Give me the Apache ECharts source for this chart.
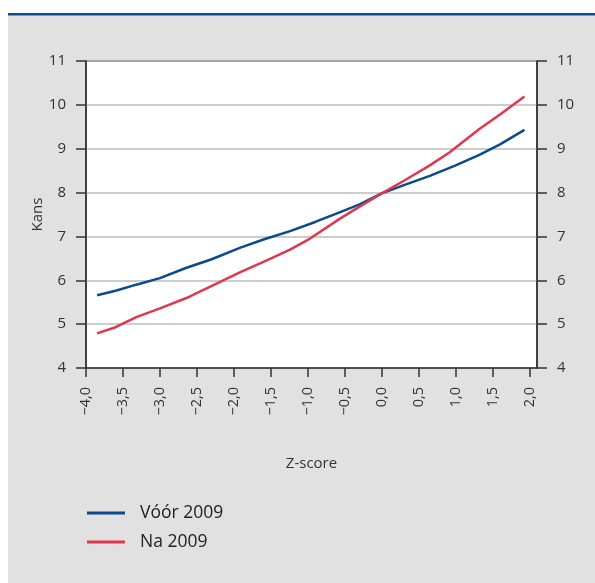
<!DOCTYPE html>
<html>
<head>
<meta charset="utf-8">
<script src="https://cdn.jsdelivr.net/npm/echarts@6/dist/echarts.min.js"></script>
<style>
html,body{margin:0;padding:0;background:#ffffff;}
#chart{width:595px;height:583px;}
</style>
</head>
<body>
<div id="chart"></div>
<script>
// Data
const seriesNames = ['Vóór 2009', 'Na 2009'];
const voorZ = [-3.85, -3.6, -3.32, -3.0, -2.65, -2.3, -1.92, -1.6, -1.24, -0.9, -0.57, -0.3, 0.0, 0.3, 0.65, 1.0, 1.32, 1.6, 1.93];
const voorKans = [5.66, 5.76, 5.90, 6.05, 6.28, 6.48, 6.74, 6.93, 7.12, 7.33, 7.55, 7.73, 7.98, 8.17, 8.38, 8.62, 8.86, 9.10, 9.43];
const naZ = [-3.85, -3.6, -3.32, -3.0, -2.65, -2.2, -1.92, -1.6, -1.24, -1.0, -0.57, -0.3, 0.0, 0.3, 0.65, 0.92, 1.32, 1.6, 1.93];
const naKans = [4.79, 4.93, 5.16, 5.36, 5.59, 5.95, 6.18, 6.42, 6.70, 6.92, 7.40, 7.68, 7.98, 8.27, 8.62, 8.92, 9.45, 9.78, 10.19];
const xTicks = [-4.0, -3.5, -3.0, -2.5, -2.0, -1.5, -1.0, -0.5, 0.0, 0.5, 1.0, 1.5, 2.0];
const yTicks = [4, 5, 6, 7, 8, 9, 10, 11];

const FONT = '"Open Sans", "Noto Sans", sans-serif';
const TXT = '#333333';
const BLUE = '#0b4a8e';
const RED = '#e0374f';

function fmtX(v) {
  return v.toFixed(1).replace('.', ',').replace('-', '\u2212');
}

const chart = echarts.init(document.getElementById('chart'), null, {renderer: 'canvas'});
const yAxisCommon = {
  type: 'value', min: 4, max: 11, interval: 1,
  axisLine: {show: true, onZero: false, lineStyle: {color: '#333', width: 1.5}},
  axisTick: {show: true, inside: false, length: 10, customValues: yTicks, lineStyle: {color: '#333', width: 1.5}},
  axisLabel: {fontFamily: FONT, fontSize: 15, color: TXT, margin: 20, customValues: yTicks},
};
chart.setOption({
  animation: false,
  backgroundColor: 'transparent',
  graphic: [
    {type: 'rect', silent: true, z: -10, shape: {x: 8, y: 14, width: 587, height: 569}, style: {fill: '#e1e1e1'}},
    {type: 'rect', silent: true, z: -9, shape: {x: 8, y: 13, width: 587, height: 2.5}, style: {fill: '#0b4f96'}}
  ],
  grid: {left: 86, right: 58, top: 61, bottom: 215, show: true, backgroundColor: '#ffffff', borderColor: '#3a3a3a', borderWidth: 1.5},
  legend: {
    orient: 'vertical', left: 82, top: 499, itemGap: 11,
    icon: 'rect', itemWidth: 38, itemHeight: 3,
    textStyle: {fontFamily: FONT, fontSize: 17.5, color: '#222', padding: [0, 0, 0, 10]},
    data: seriesNames
  },
  xAxis: {
    type: 'value', min: -4, max: 2.1,
    name: 'Z-score', nameLocation: 'middle', nameGap: 88, nameMoveOverlap: false,
    nameTextStyle: {fontFamily: FONT, fontSize: 15, color: TXT},
    axisLine: {show: true, onZero: false, lineStyle: {color: '#333', width: 1.5}},
    axisTick: {show: true, length: 9, customValues: xTicks, lineStyle: {color: '#333', width: 1.5}},
    axisLabel: {rotate: 90, margin: 19, fontFamily: FONT, fontSize: 14.5, color: TXT, customValues: xTicks, formatter: fmtX},
    splitLine: {show: false}
  },
  yAxis: [
    Object.assign({}, yAxisCommon, {
      position: 'left', name: 'Kans', nameLocation: 'middle', nameGap: 41, nameMoveOverlap: false,
      nameTextStyle: {fontFamily: FONT, fontSize: 15, color: TXT},
      splitLine: {show: true, lineStyle: {color: '#bdbdbd', width: 1.5}}
    }),
    Object.assign({}, yAxisCommon, {position: 'right', splitLine: {show: false}})
  ],
  series: [
    {name: seriesNames[0], type: 'line', showSymbol: false, symbol: 'none', smooth: false,
     lineStyle: {color: BLUE, width: 2.5}, itemStyle: {color: BLUE},
     data: voorZ.map((z, i) => [z, voorKans[i]])},
    {name: seriesNames[1], type: 'line', showSymbol: false, symbol: 'none', smooth: false,
     lineStyle: {color: RED, width: 2.5}, itemStyle: {color: RED},
     data: naZ.map((z, i) => [z, naKans[i]])}
  ]
});
</script>
</body>
</html>
